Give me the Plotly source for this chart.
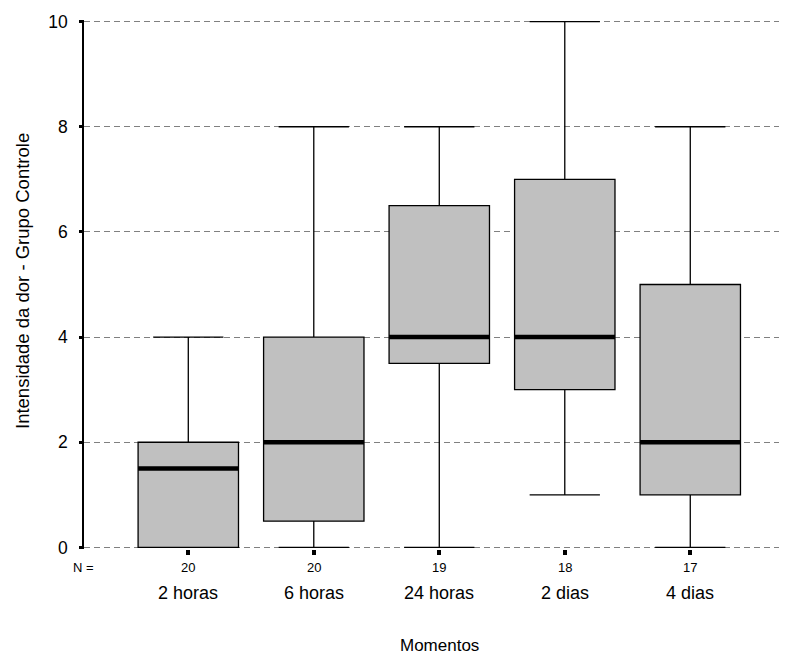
import plotly.graph_objects as go

categories = ["2 horas", "6 horas", "24 horas", "2 dias", "4 dias"]
n_values = [20, 20, 19, 18, 17]
lower = [0, 0, 0, 1, 0]
q1 = [0, 0.5, 3.5, 3, 1]
median = [1.5, 2, 4, 4, 2]
q3 = [2, 4, 6.5, 7, 5]
upper = [4, 8, 8, 10, 8]
y_ticks = [0, 2, 4, 6, 8, 10]

pos = list(range(len(categories)))
FONT = "Arial, Liberation Sans, Helvetica, sans-serif"
BOXW = 0.8

fig = go.Figure()
fig.add_trace(go.Box(
    x=pos, q1=q1, median=median, q3=q3, lowerfence=lower, upperfence=upper,
    boxpoints=False, width=BOXW, whiskerwidth=0.7,
    fillcolor="#c0c0c0", line=dict(color="black", width=1.3),
    hoverinfo="skip", showlegend=False,
))
mx, my = [], []
for p, m in zip(pos, median):
    mx += [p - BOXW / 2, p + BOXW / 2, None]
    my += [m, m, None]
fig.add_trace(go.Scatter(x=mx, y=my, mode="lines", line=dict(color="black", width=4.5),
                         hoverinfo="skip", showlegend=False))

L, R = 84, 7
T, B = 20, 108
W, H = 786, 657
pw = W - L - R
ph = H - T - B
def px_x(px):
    return (px - L) / pw
def px_y(py):
    return (H - B - py) / ph

ann = []
ann.append(dict(x=px_x(83), y=px_y(567), xref="paper", yref="paper", text="N =", showarrow=False,
                font=dict(size=13, color="black", family=FONT), xanchor="center", yanchor="middle"))
for p, n, c in zip(pos, n_values, categories):
    ann.append(dict(x=p, y=px_y(567), xref="x", yref="paper", text=str(n), showarrow=False,
                    font=dict(size=13, color="black", family=FONT), xanchor="center", yanchor="middle"))
    ann.append(dict(x=p, y=px_y(593), xref="x", yref="paper", text=c, showarrow=False,
                    font=dict(size=18, color="black", family=FONT), xanchor="center", yanchor="middle"))
ann.append(dict(x=px_x(440), y=px_y(645), xref="paper", yref="paper", text="Momentos", showarrow=False,
                font=dict(size=17, color="black", family=FONT), xanchor="center", yanchor="middle"))
ann.append(dict(x=px_x(22), y=px_y(281), xref="paper", yref="paper",
                text="Intensidade da dor - Grupo Controle", showarrow=False, textangle=-90,
                font=dict(size=18.5, color="black", family=FONT), xanchor="center", yanchor="middle"))

fig.update_layout(
    width=W, height=H,
    margin=dict(l=L, r=R, t=T, b=B, pad=0),
    plot_bgcolor="white", paper_bgcolor="white",
    font=dict(family=FONT, color="black"),
    annotations=ann,
    xaxis=dict(
        range=[-0.831, 4.707], showgrid=False, zeroline=False, showline=False,
        tickvals=pos, ticktext=[""] * len(pos), showticklabels=False,
        ticks="outside", ticklen=5, tickwidth=4, tickcolor="black",
    ),
    yaxis=dict(
        range=[-0.03, 10.03], tickvals=y_ticks, ticktext=[str(v) for v in y_ticks],
        showgrid=True, gridcolor="#808080", gridwidth=1, griddash="6px,4px",
        zeroline=False, showline=True, linecolor="black", linewidth=1.5,
        ticks="outside", ticklen=3, tickwidth=3, tickcolor="black",
        tickfont=dict(size=17.5, color="black", family=FONT), ticklabelstandoff=8,
    ),
)

fig.write_html("out.html")
